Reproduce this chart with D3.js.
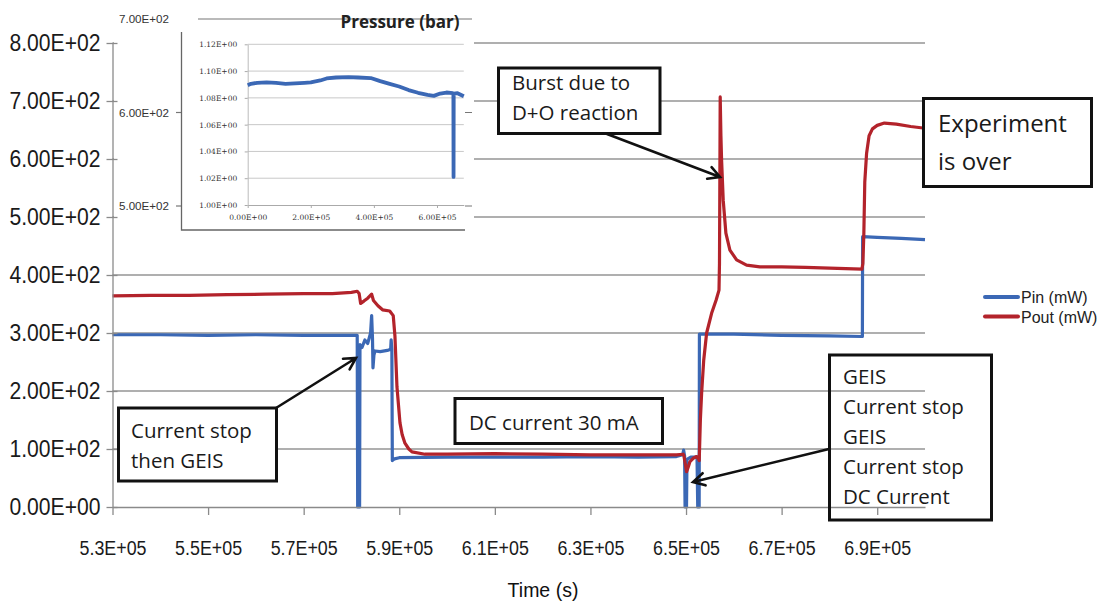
<!DOCTYPE html>
<html>
<head>
<meta charset="utf-8">
<script src="https://cdn.jsdelivr.net/npm/d3@7"></script>
<style>
  body { margin: 0; background: #fff; }
  svg { display: block; }
</style>
</head>
<body>
<svg id="chart" width="1104" height="601"></svg>
<script>
// ---- main chart data: input and output power over time ----
const xTicks = [530000, 550000, 570000, 590000, 610000, 630000, 650000, 670000, 690000];
const xTickLabels = ["5.3E+05", "5.5E+05", "5.7E+05", "5.9E+05", "6.1E+05", "6.3E+05", "6.5E+05", "6.7E+05", "6.9E+05"];
const yTicks = [0, 100, 200, 300, 400, 500, 600, 700, 800];
const yTickLabels = ["0.00E+00", "1.00E+02", "2.00E+02", "3.00E+02", "4.00E+02", "5.00E+02", "6.00E+02", "7.00E+02", "8.00E+02"];

const pinTime = [530000, 540000, 550000, 560000, 570000, 578000, 581200, 581300, 581700, 581780,
  582200, 582800, 583400, 584000, 584220, 584400, 584500, 584700, 584920, 586000,
  587500, 588200, 588300, 588450, 588550, 589000, 590000, 600000, 610000, 620000,
  630000, 640000, 648000, 649300, 649500, 649700, 649800, 650100, 650200, 651000,
  652300, 652450, 652750, 652800, 660000, 670000, 680000, 686900, 686950, 690000,
  695000, 700000];
const pin = [297, 297, 296, 297, 296, 296, 296, 0, 0, 280,
  275, 288, 282, 300, 330, 290, 240, 262, 269, 268,
  270, 272, 288, 272, 80, 83, 85, 86, 86, 86,
  87, 86, 87, 90, 98, 88, 0, 0, 82, 86,
  86, 0, 0, 298, 298, 296, 295, 294, 466, 465,
  463, 461];

const poutTime = [530000, 538000, 546000, 554000, 562000, 570000, 576000, 580000, 581200, 581600,
  581920, 582600, 583400, 584220, 584600, 585540, 586500, 588000, 588740, 589100,
  589520, 590150, 590600, 591190, 592000, 592660, 595380, 600000, 610000, 620000,
  630000, 640000, 648000, 649400, 649560, 650120, 650500, 650810, 651500, 652210,
  652500, 652760, 653000, 653260, 653700, 654310, 655350, 656300, 656900, 657000,
  657150, 657300, 657440, 657780, 658340, 659180, 660580, 662670, 665450, 670000,
  675000, 680000, 686800, 687000, 687200, 687400, 687780, 688300, 689000, 690000,
  691500, 694000, 697000, 700000];
const pout = [364, 365, 365, 366, 367, 368, 368, 370, 372, 368,
  351, 355, 360, 367, 356, 347, 340, 338, 330, 294,
  207, 145, 125, 110, 100, 95, 91, 91, 92, 91,
  90, 90, 90, 91, 88, 61, 70, 78, 84, 87,
  84, 80, 150, 196, 253, 300, 334, 357, 374, 420,
  707, 640, 598, 529, 472, 443, 426, 417, 414, 414,
  413, 412, 410, 420, 470, 560, 610, 640, 652, 658,
  662, 660, 656, 653];

// ---- inset data: cell pressure over the whole run ----
const pressureTime = [0, 10000, 30000, 60000, 90000, 120000, 150000, 180000, 200000, 230000,
  250000, 280000, 320000, 350000, 390000, 420000, 450000, 480000, 510000, 540000,
  570000, 590000, 610000, 630000, 650000, 652000, 652500, 653000, 665000, 685000];
const pressure = [1.0895, 1.0905, 1.0912, 1.0915, 1.0912, 1.0905, 1.0908, 1.0912, 1.0915, 1.0930,
  1.0945, 1.0952, 1.0955, 1.0952, 1.0948, 1.0925, 1.0905, 1.0885, 1.0858, 1.0838,
  1.0822, 1.0815, 1.0832, 1.0840, 1.0835, 1.0830, 1.0210, 1.0832, 1.0835, 1.0812];
const pressureTicks = [1.00, 1.02, 1.04, 1.06, 1.08, 1.10, 1.12];
const pressureTickLabels = ["1.00E+00", "1.02E+00", "1.04E+00", "1.06E+00", "1.08E+00", "1.10E+00", "1.12E+00"];
const insetTimeTicks = [0, 200000, 400000, 600000];
const insetTimeTickLabels = ["0.00E+00", "2.00E+05", "4.00E+05", "6.00E+05"];
const insetOuterTicks = [500, 600, 700];
const insetOuterTickLabels = ["5.00E+02", "6.00E+02", "7.00E+02"];

const seriesNames = ["Pin (mW)", "Pout (mW)"];

const BLUE = "#3b68b5";
const RED = "#b3232b";
const GRID = "#959595";
const AXIS = "#8a8a8a";
const NARROW = "'Liberation Sans Narrow', 'Arial Narrow', 'Liberation Sans', sans-serif";
const NOTE_FONT = "'Open Sans', 'Noto Sans', sans-serif";

const svg = d3.select("#chart");

// ---- scales ----
const x = d3.scaleLinear().domain([530000, 700000]).range([112.5, 925]);
const y = d3.scaleLinear().domain([0, 800]).range([507, 43]);

// gridlines
svg.append("g").selectAll("line")
  .data(yTicks.filter(d => d > 0))
  .join("line")
  .attr("x1", x(530000)).attr("x2", x(700000))
  .attr("y1", d => y(d)).attr("y2", d => y(d))
  .attr("stroke", GRID).attr("stroke-width", 1.3);

// power series
const line = d3.line().x(d => x(d[0])).y(d => y(d[1]));
svg.append("path")
  .datum(d3.zip(pinTime, pin))
  .attr("d", line)
  .attr("fill", "none").attr("stroke", BLUE).attr("stroke-width", 3.2)
  .attr("stroke-linejoin", "round");
svg.append("path")
  .datum(d3.zip(poutTime, pout))
  .attr("d", line)
  .attr("fill", "none").attr("stroke", RED).attr("stroke-width", 3.2)
  .attr("stroke-linejoin", "round");

// ---- pressure inset (pasted chart in upper-left corner) ----
const inset = svg.append("g");
inset.append("rect").attr("x", 114).attr("y", 0).attr("width", 360).attr("height", 233).attr("fill", "#fff");

const yo = d3.scaleLinear().domain([500, 700]).range([206, 19]);
// outer gridlines of the pasted chart
inset.selectAll("line.og")
  .data(insetOuterTicks)
  .join("line")
  .attr("x1", d => d === 700 ? 198 : 181.5).attr("x2", 472)
  .attr("y1", d => yo(d)).attr("y2", d => yo(d))
  .attr("stroke", "#777").attr("stroke-width", 1.2);
inset.selectAll("text.ot")
  .data(insetOuterTicks)
  .join("text")
  .attr("x", 169).attr("y", d => yo(d) + 4)
  .attr("text-anchor", "end")
  .attr("font-family", "'Liberation Sans', sans-serif").attr("font-size", 10.5).attr("fill", "#333")
  .attr("textLength", 50).attr("lengthAdjust", "spacingAndGlyphs")
  .text((d, i) => insetOuterTickLabels[i]);
inset.selectAll("line.otk")
  .data(insetOuterTicks.filter(d => d < 700))
  .join("line")
  .attr("x1", 176).attr("x2", 181.5)
  .attr("y1", d => yo(d)).attr("y2", d => yo(d))
  .attr("stroke", "#777").attr("stroke-width", 1.2);

// inner chart area
inset.append("rect").attr("x", 182).attr("y", 32).attr("width", 283).attr("height", 198).attr("fill", "#fff");
inset.append("path")
  .attr("d", "M181.5,32V230H465")
  .attr("fill", "none").attr("stroke", "#666").attr("stroke-width", 1.3);

const xi = d3.scaleLinear().domain([0, 685000]).range([247.7, 463.8]);
const yi = d3.scaleLinear().domain([1.00, 1.12]).range([205, 44.3]);

inset.selectAll("line.ig")
  .data(pressureTicks.filter(d => d > 1.0))
  .join("line")
  .attr("x1", xi(0)).attr("x2", xi(685000))
  .attr("y1", d => yi(d)).attr("y2", d => yi(d))
  .attr("stroke", "#c8c8c8").attr("stroke-width", 1);

const insetX = d3.axisBottom(xi).tickValues(insetTimeTicks)
  .tickFormat((d, i) => insetTimeTickLabels[i]).tickSize(3).tickSizeOuter(0);
const gix = inset.append("g").attr("transform", `translate(0,${yi(1.0)})`).call(insetX);
gix.select(".domain").attr("stroke", "#aaa");
gix.selectAll(".tick line").attr("stroke", "#aaa");
gix.selectAll(".tick text").attr("font-family", "'DejaVu Serif', serif").attr("font-size", 7.5).attr("fill", "#333").attr("dy", "1.2em");

const insetY = d3.axisLeft(yi).tickValues(pressureTicks)
  .tickFormat((d, i) => pressureTickLabels[i]).tickSize(3).tickSizeOuter(0);
const giy = inset.append("g").attr("transform", `translate(${xi(0)},0)`).call(insetY);
giy.select(".domain").attr("stroke", "#bbb");
giy.selectAll(".tick line").attr("stroke", "#aaa");
giy.selectAll(".tick text").attr("font-family", "'DejaVu Serif', serif").attr("font-size", 7.5).attr("fill", "#333").attr("dx", "-0.6em");

const pline = d3.line().x(d => xi(d[0])).y(d => yi(d[1]));
inset.append("path")
  .datum(d3.zip(pressureTime, pressure))
  .attr("d", pline)
  .attr("fill", "none").attr("stroke", BLUE).attr("stroke-width", 3.8)
  .attr("stroke-linejoin", "round");

inset.append("text")
  .attr("x", 400).attr("y", 28)
  .attr("text-anchor", "middle")
  .attr("font-family", NOTE_FONT).attr("font-weight", "bold").attr("font-size", 17).attr("fill", "#222")
  .text("Pressure (bar)");

// ---- main axes ----
const gy = svg.append("g").attr("transform", `translate(${x(530000)},0)`)
  .call(d3.axisLeft(y).tickValues(yTicks).tickFormat((d, i) => yTickLabels[i]).tickSize(6).tickSizeOuter(0));
gy.select(".domain").attr("stroke", AXIS).attr("stroke-width", 1.3);
gy.selectAll(".tick line").attr("x1", 5).attr("stroke", AXIS).attr("stroke-width", 1.3);
gy.selectAll(".tick text").attr("x", -12).attr("font-family", NARROW).attr("font-size", 23).attr("fill", "#1a1a1a")
  .attr("textLength", 91).attr("lengthAdjust", "spacingAndGlyphs");

const gx = svg.append("g").attr("transform", `translate(0,${y(0)})`)
  .call(d3.axisBottom(x).tickValues(xTicks).tickFormat((d, i) => xTickLabels[i]).tickSize(8).tickSizeOuter(0));
gx.select(".domain").attr("stroke", AXIS).attr("stroke-width", 1.3);
gx.selectAll(".tick line").attr("stroke", AXIS).attr("stroke-width", 1.3);
gx.selectAll(".tick text").attr("y", 33).attr("font-family", NARROW).attr("font-size", 20.5).attr("fill", "#1a1a1a")
  .attr("textLength", 67).attr("lengthAdjust", "spacingAndGlyphs");

svg.append("text")
  .attr("x", 543).attr("y", 597)
  .attr("text-anchor", "middle")
  .attr("font-family", "'Liberation Sans', Arial, sans-serif").attr("font-size", 19.5).attr("fill", "#111")
  .text("Time (s)");

// ---- legend ----
const legend = svg.append("g");
[BLUE, RED].forEach((c, i) => {
  const ly = 297 + i * 19.5;
  legend.append("line").attr("x1", 985).attr("x2", 1018).attr("y1", ly).attr("y2", ly)
    .attr("stroke", c).attr("stroke-width", 4).attr("stroke-linecap", "round");
  legend.append("text").attr("x", 1021).attr("y", ly + 6)
    .attr("font-family", NARROW).attr("font-size", 16).attr("fill", "#222")
    .text(seriesNames[i]);
});

// ---- annotations ----
function arrow(x1, y1, x2, y2) {
  const a = Math.atan2(y2 - y1, x2 - x1);
  const L = 13, w = 0.5;
  const p1 = [x2 - L * Math.cos(a - w), y2 - L * Math.sin(a - w)];
  const p2 = [x2 - L * Math.cos(a + w), y2 - L * Math.sin(a + w)];
  svg.append("path")
    .attr("d", `M${x1},${y1}L${x2},${y2}M${p1[0]},${p1[1]}L${x2},${y2}L${p2[0]},${p2[1]}`)
    .attr("fill", "none").attr("stroke", "#111").attr("stroke-width", 2.6)
    .attr("stroke-linejoin", "miter").attr("stroke-linecap", "round");
}
function note(bx, by, bw, bh, lines, tx, ty, dy, size, fill) {
  svg.append("rect").attr("x", bx).attr("y", by).attr("width", bw).attr("height", bh)
    .attr("fill", fill ? "#fff" : "none").attr("stroke", "#111").attr("stroke-width", 3);
  const t = svg.append("text").attr("font-family", NOTE_FONT).attr("font-size", size).attr("fill", "#1a1a1a");
  lines.forEach((s, i) => t.append("tspan").attr("x", tx).attr("y", ty + i * dy).text(s));
}

arrow(276, 408, 356, 358);
note(118.5, 408, 158, 73, ["Current stop", "then GEIS"], 131, 438, 29.5, 20.5, true);

note(455, 398.5, 207.5, 45, ["DC current 30 mA"], 469, 430, 0, 20.5, true);

arrow(607, 134, 720, 177);
note(498.5, 68, 161.5, 65.5, ["Burst due to", "D+O reaction"], 512, 89.5, 30.5, 20.5, true);

note(923.5, 98.5, 168, 88, ["Experiment", "is over"], 938, 132, 37.5, 24, true);

arrow(829, 449, 693, 482);
note(829.5, 355, 162, 165, ["GEIS", "Current stop", "GEIS", "Current stop", "DC Current"], 843, 383.5, 30, 20.5, false);
</script>
</body>
</html>
